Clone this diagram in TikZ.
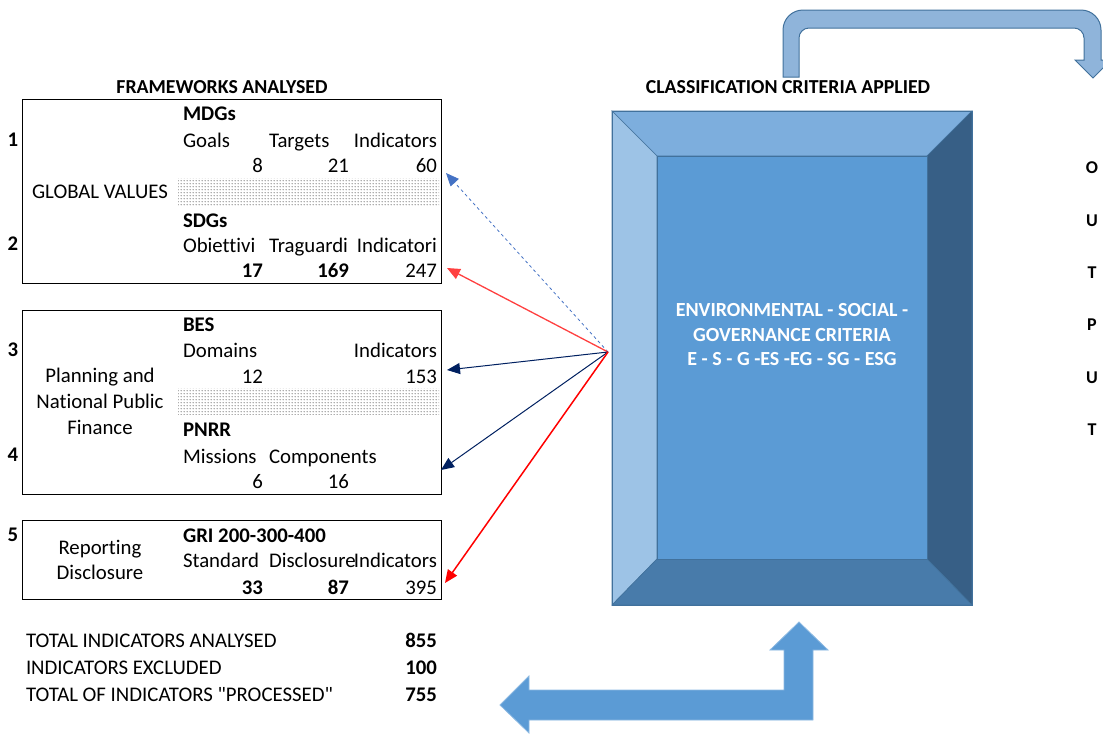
\documentclass[tikz,border=0pt]{standalone}
\usepackage{fontspec}
\setmainfont{Carlito}[Ligatures={TeXOff,NoCommon}]
\usetikzlibrary{arrows.meta,patterns.meta}
\definecolor{faceF}{HTML}{5B9BD5}
\definecolor{faceT}{HTML}{7DAEDD}
\definecolor{faceL}{HTML}{9DC3E6}
\definecolor{faceR}{HTML}{375F86}
\definecolor{faceB}{HTML}{487BAA}
\definecolor{edgeB}{HTML}{41719C}
\definecolor{topArrow}{HTML}{8FB4DA}
\definecolor{navy}{HTML}{002060}
\definecolor{lblue}{HTML}{4472C4}
\tikzdeclarepattern{
  name=mydots,
  type=uncolored,
  bounding box={(0pt,0pt) and (3pt,3pt)},
  tile size={(3pt,3pt)},
  code={\fill (1.5pt,1.5pt) circle (0.65pt);}
}
\begin{document}
\begin{tikzpicture}[x=1pt,y=-1pt,
  font=\fontsize{20.8}{25}\selectfont,
  txt/.style={inner sep=0pt,outer sep=0pt},
  lt/.style={txt,anchor=base west},
  rt/.style={txt,anchor=base east},
  ct/.style={txt,anchor=base},
  bf/.style={font=\fontsize{20.8}{25}\selectfont\bfseries},
  hd/.style={txt,anchor=base west,bf},
  frame/.style={draw=black,line width=1pt},
  band/.style={pattern=mydots,pattern color=black!90},
  face/.style={draw=edgeB,line width=0.6pt},
  outtxt/.style={txt,anchor=base,font=\fontsize{18}{21}\selectfont\bfseries},
  arr/.style={-{Triangle[length=13pt,width=11pt]}},
]
\useasboundingbox (0,0) rectangle (1103,734);

% ---------- titles
\node[ct,font=\fontsize{19.8}{23}\selectfont\bfseries] (t1) at (222,93) {FRAMEWORKS ANALYSED};
\node[ct,font=\fontsize{19.8}{23}\selectfont\bfseries] (t2) at (788,93) {CLASSIFICATION CRITERIA APPLIED};

% ---------- box 1
\draw[frame] (22,99) rectangle (441,283);
\fill[band] (178,178) rectangle (439,205);
\node[ct,bf] (n1) at (13,146) {1};
\node[ct,bf] (n2) at (13,250) {2};
\node[ct] (gv) at (100,198) {GLOBAL VALUES};
\node[hd] (mdg) at (183,120) {MDGs};
\node[lt] (goals) at (183,147) {Goals};
\node[lt] (targ) at (269,147) {Targets};
\node[rt] (ind1) at (437,147) {Indicators};
\node[rt] (v8) at (263,172) {8};
\node[rt] (v21) at (349,172) {21};
\node[rt] (v60) at (437,172) {60};
\node[hd] (sdg) at (183,227) {SDGs};
\node[lt] (obi) at (183,252) {Obiettivi};
\node[lt] (tra) at (269,252) {Traguardi};
\node[rt] (indi) at (437,252) {Indicatori};
\node[rt,bf] (v17) at (263,277) {17};
\node[rt,bf] (v169) at (349,277) {169};
\node[rt] (v247) at (437,277) {247};

% ---------- box 2
\draw[frame] (22,310) rectangle (441,494);
\fill[band] (178,388) rectangle (439,414);
\node[ct,bf] (n3) at (13,356) {3};
\node[ct,bf] (n4) at (13,461) {4};
\node[ct] (pl1) at (100,382) {Planning and};
\node[ct] (pl2) at (100,408) {National Public};
\node[ct] (pl3) at (100,434) {Finance};
\node[hd] (bes) at (183,331) {BES};
\node[lt] (dom) at (183,357) {Domains};
\node[rt] (ind3) at (437,357) {Indicators};
\node[rt] (v12) at (263,383) {12};
\node[rt] (v153) at (437,383) {153};
\node[hd] (pnrr) at (183,436) {PNRR};
\node[lt] (mis) at (183,463) {Missions};
\node[lt] (comp) at (269,463) {Components};
\node[rt] (v6) at (263,488) {6};
\node[rt] (v16) at (349,488) {16};

% ---------- box 3
\draw[frame] (22,520) rectangle (441,599);
\node[ct,bf] (n5) at (13,541) {5};
\node[ct] (rep1) at (100,554) {Reporting};
\node[ct] (rep2) at (100,579) {Disclosure};
\node[hd] (gri) at (183,542) {GRI 200-300-400};
\node[lt] (std) at (183,567) {Standard};
\node[lt] (dis) at (269,567) {Disclosure};
\node[rt] (ind5) at (437,567) {Indicators};
\node[rt,bf] (v33) at (263,594) {33};
\node[rt,bf] (v87) at (349,594) {87};
\node[rt] (v395) at (437,594) {395};

% ---------- totals
\node[lt] (tot1) at (26,647) {TOTAL INDICATORS ANALYSED};
\node[lt] (tot2) at (26,674) {INDICATORS EXCLUDED};
\node[lt] (tot3) at (26,701) {TOTAL OF INDICATORS "PROCESSED"};
\node[rt,bf] (tv1) at (437,647) {855};
\node[rt,bf] (tv2) at (437,674) {100};
\node[rt,bf] (tv3) at (437,701) {755};

% ---------- bevel box
\fill[faceT,face] (612,111) -- (972,111) -- (927,156) -- (657,156) -- cycle;
\fill[faceL,face] (612,111) -- (657,156) -- (657,559) -- (612,605) -- cycle;
\fill[faceR,face] (972,111) -- (972,605) -- (927,559) -- (927,156) -- cycle;
\fill[faceB,face] (612,605) -- (657,559) -- (927,559) -- (972,605) -- cycle;
\fill[faceF,face] (657,156) rectangle (927,559);
\draw[edgeB,line width=0.8pt] (612,111) rectangle (972,605);
\node[ct,text=white,font=\fontsize{20}{24}\selectfont\bfseries] (c1) at (792,316) {ENVIRONMENTAL - SOCIAL -};
\node[ct,text=white,font=\fontsize{20}{24}\selectfont\bfseries] (c2) at (792,341) {GOVERNANCE CRITERIA};
\node[ct,text=white,font=\fontsize{20}{24}\selectfont\bfseries] (c3) at (792,365) {E - S - G -ES -EG - SG - ESG};

% ---------- connectors
\coordinate (src) at (608,352);
\coordinate (e1) at (446,173);
\coordinate (e2) at (447,268);
\coordinate (e3) at (447,370);
\coordinate (e4) at (441,470);
\coordinate (e5) at (445,583);
\draw[arr,lblue,dashed,line width=0.8pt] (src) -- (e1);
\draw[arr,red!75,line width=1.3pt] (src) -- (e2);
\draw[arr,navy,line width=1pt] (src) -- (e3);
\draw[arr,navy,line width=1pt] (src) -- (e4);
\draw[arr,red,line width=1.5pt] (src) -- (e5);

% ---------- top bent arrow
\filldraw[fill=topArrow,draw=edgeB,line width=1pt]
  (783,77) -- (783,30) .. controls (783,18.95) and (791.95,10) .. (803,10)
  -- (1081,10) .. controls (1092.05,10) and (1101,18.95) .. (1101,30)
  -- (1101,60) -- (1111,60) -- (1093,78) -- (1075,60) -- (1084,60)
  -- (1084,38) .. controls (1084,32.5) and (1079.5,28) .. (1074,28)
  -- (809,28) .. controls (803.5,28) and (799,32.5) .. (799,38)
  -- (799,77) -- cycle;

% ---------- OUTPUT
\node[outtxt] (o1) at (1092,173) {O};
\node[outtxt] (o2) at (1092,226) {U};
\node[outtxt] (o3) at (1092,278) {T};
\node[outtxt] (o4) at (1092,330) {P};
\node[outtxt] (o5) at (1092,383) {U};
\node[outtxt] (o6) at (1092,435) {T};

% ---------- bottom L arrow
\filldraw[fill=faceF,draw=faceF!70!white,line width=0.8pt]
  (799,622) -- (828,650) -- (813,650) -- (813,720) -- (529,720) -- (529,733)
  -- (500,705) -- (529,676) -- (529,690) -- (784,690) -- (784,650) -- (770,650) -- cycle;
\end{tikzpicture}
\end{document}
